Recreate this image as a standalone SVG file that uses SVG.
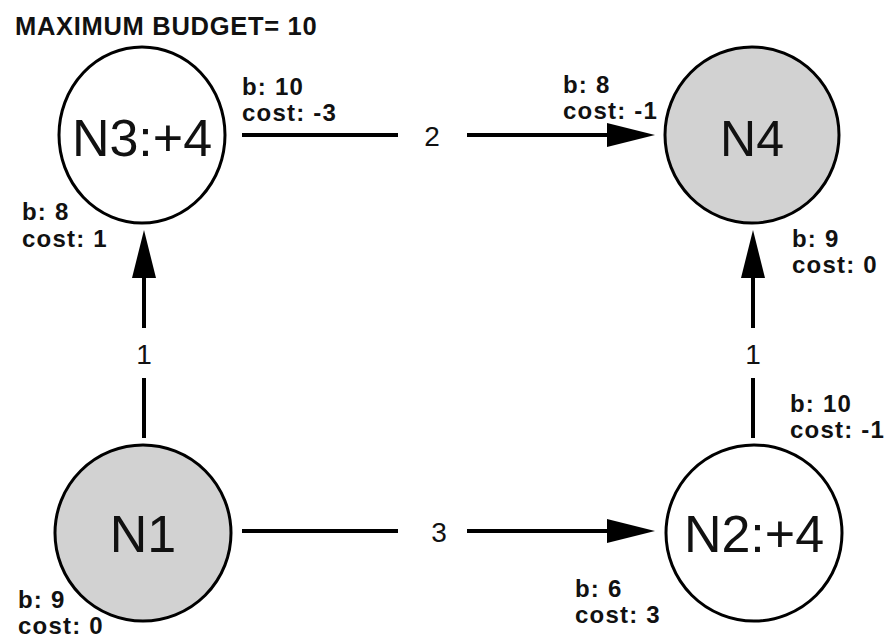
<svg xmlns="http://www.w3.org/2000/svg" width="892" height="641" viewBox="0 0 892 641">
<defs>
<style>
.node{stroke:#000;stroke-width:3}
.gray{fill:#d2d2d2}
.white{fill:#fff}
.ntext{font-family:"Liberation Sans",Arial,sans-serif;font-size:52px;fill:#111;text-anchor:middle}
.lbl{font-family:"Liberation Sans",Arial,sans-serif;font-size:24px;font-weight:bold;fill:#111;letter-spacing:1.2px}
.elbl{font-family:"Liberation Sans",Arial,sans-serif;font-size:28px;fill:#111;text-anchor:middle}
.edge{stroke:#000;stroke-width:4;fill:none}
</style>
<marker id="arr" markerUnits="userSpaceOnUse" markerWidth="48" markerHeight="24" refX="8" refY="12" orient="auto">
<path d="M0,0 L48,12 L0,24 Z" fill="#000"/>
</marker>
</defs>
<rect width="892" height="641" fill="#fff"/>
<text x="15" y="35" class="lbl" style="font-size:25.5px;letter-spacing:0.7px">MAXIMUM BUDGET= 10</text>
<g id="connectors">
<line class="edge" x1="242" y1="135" x2="398" y2="135"/>
<line class="edge" x1="467" y1="135" x2="615" y2="135" marker-end="url(#arr)"/>
<text class="elbl" x="432" y="146">2</text>
<line class="edge" x1="242" y1="531" x2="398" y2="531"/>
<line class="edge" x1="467" y1="531" x2="615" y2="531" marker-end="url(#arr)"/>
<text class="elbl" x="439" y="542">3</text>
<line class="edge" x1="144" y1="438" x2="144" y2="378"/>
<line class="edge" x1="144" y1="328" x2="144" y2="270" marker-end="url(#arr)"/>
<text class="elbl" x="144" y="364">1</text>
<line class="edge" x1="753" y1="438" x2="753" y2="378"/>
<line class="edge" x1="753" y1="328" x2="753" y2="270" marker-end="url(#arr)"/>
<text class="elbl" x="753" y="364">1</text>
<text class="lbl" x="242" y="95">b: 10</text>
<text class="lbl" x="242" y="121">cost: -3</text>
<text class="lbl" x="563" y="93">b: 8</text>
<text class="lbl" x="563" y="119">cost: -1</text>
<text class="lbl" x="22" y="220">b: 8</text>
<text class="lbl" x="22" y="247">cost: 1</text>
<text class="lbl" x="792" y="247">b: 9</text>
<text class="lbl" x="792" y="273">cost: 0</text>
<text class="lbl" x="790" y="412">b: 10</text>
<text class="lbl" x="790" y="438">cost: -1</text>
<text class="lbl" x="575" y="597">b: 6</text>
<text class="lbl" x="575" y="623">cost: 3</text>
</g>
<g id="N3">
<ellipse class="node white" cx="142" cy="135" rx="83" ry="88"/>
<text class="ntext" x="142" y="156">N3:+4</text>
</g>
<g id="N4">
<ellipse class="node gray" cx="752" cy="135" rx="87" ry="88"/>
<text class="ntext" x="752" y="156" style="font-size:50px">N4</text>
</g>
<g id="N1">
<ellipse class="node gray" cx="143" cy="533" rx="88" ry="88"/>
<text class="ntext" x="143" y="552">N1</text>
</g>
<g id="N2">
<ellipse class="node white" cx="754" cy="533" rx="88" ry="88"/>
<text class="ntext" x="754" y="552">N2:+4</text>
</g>
<g id="N1-labels">
<text class="lbl" x="18" y="608">b: 9</text>
<text class="lbl" x="18" y="634">cost: 0</text>
</g>
</svg>
